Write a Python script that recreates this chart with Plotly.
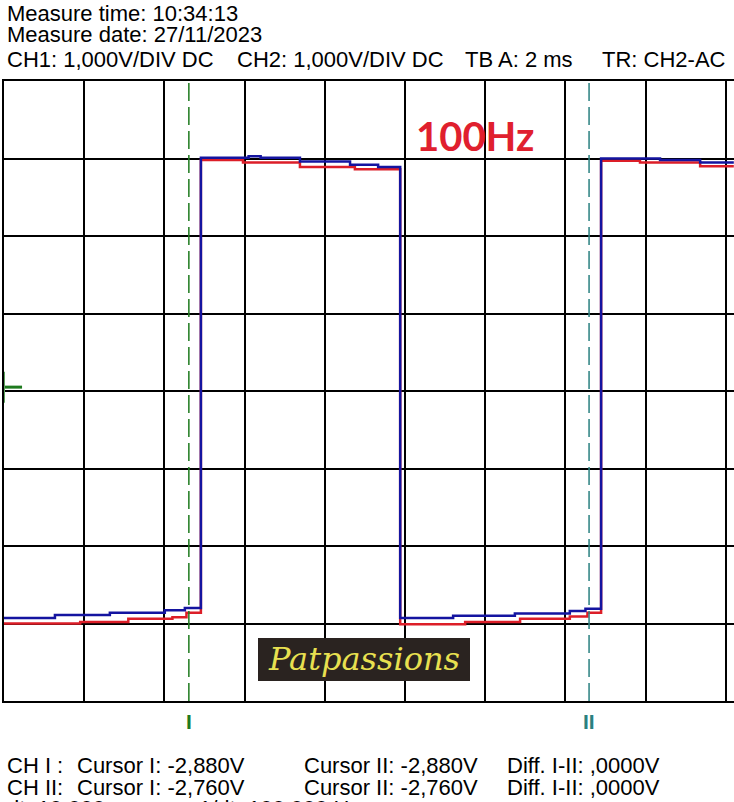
import plotly.graph_objects as go

# time in ms, voltage in V (1 V/div, 2 ms/div)
ch1_t = [0.00, 1.90, 3.10, 4.20, 4.55, 4.91, 5.96, 7.38, 8.75, 9.88, 11.50, 12.87, 14.11, 14.55, 14.89, 15.86, 17.36, 18.20]
ch1_v = [-3.00, -2.98, -2.94, -2.92, -2.86, 2.98, 2.95, 2.89, 2.86, -3.01, -2.98, -2.94, -2.91, -2.86, 2.97, 2.95, 2.90, 2.90]

ch2_t = [0.00, 1.27, 2.64, 4.01, 4.51, 4.91, 6.10, 6.40, 7.38, 8.63, 9.33, 9.88, 11.20, 12.74, 14.11, 14.50, 14.89, 16.36, 17.36, 18.20]
ch2_v = [-2.93, -2.89, -2.86, -2.83, -2.80, 3.01, 3.03, 3.01, 2.96, 2.92, 2.89, -2.93, -2.90, -2.87, -2.84, -2.81, 3.00, 2.98, 2.95, 2.95]

cursor_t = [4.61, 14.59]
cursor_names = ["I", "II"]
cursor_colors = ["#1e7a1e", "#2b8080"]

header = ["Measure time: 10:34:13", "Measure date: 27/11/2023"]
settings = [("CH1: 1,000V/DIV DC", 5), ("CH2: 1,000V/DIV DC", 235), ("TB A: 2 ms", 463), ("TR: CH2-AC", 600)]
footer_rows = [
    [("CH I :", 5), ("Cursor I: -2,880V", 75), ("Cursor II: -2,880V", 302), ("Diff. I-II: ,0000V", 505)],
    [("CH II:", 5), ("Cursor I: -2,760V", 75), ("Cursor II: -2,760V", 302), ("Diff. I-II: ,0000V", 505)],
    [("dt: 10,000ms", 5), ("1/dt: 100,000 Hz", 197)],
]

W, H = 734, 802
L, T, B = 4, 81, 701  # plot area in pixels
X_MAX = (W - L) / 80.2 * 2


def px(x):
    return (x - L) / (W - L)


def py(y):
    return (B - y) / (B - T)


FONT = "Liberation Sans, Arial, sans-serif"
FS = 22

fig = go.Figure()

fig.add_trace(go.Scatter(x=ch1_t, y=ch1_v, mode="lines", line=dict(color="#dc1e28", width=2.5, shape="hv"),
                         name="CH1", hoverinfo="skip"))
fig.add_trace(go.Scatter(x=ch2_t, y=ch2_v, mode="lines", line=dict(color="#1414a0", width=2.5, shape="hv"),
                         name="CH2", hoverinfo="skip"))

# cursors
for t, name, col in zip(cursor_t, cursor_names, cursor_colors):
    fig.add_shape(type="line", x0=t, x1=t, y0=-4, y1=4, xref="x", yref="y",
                  line=dict(color=col, width=1.5, dash="18px,6px"))
    fig.add_annotation(x=t, y=py(721), xref="x", yref="paper", text="<b>" + name + "</b>", showarrow=False,
                       font=dict(family=FONT, size=21, color=col), xanchor="center", yanchor="middle")

# ground marker on the left
fig.add_shape(type="line", x0=0, x1=0.45, y0=0.05, y1=0.05, line=dict(color="#1e7a1e", width=3))
fig.add_shape(type="line", x0=0, x1=0, y0=-0.15, y1=0.25, line=dict(color="#5aa05a", width=2))

# header text
for i, txt in enumerate(header):
    fig.add_annotation(x=px(5), y=py([14, 35][i]), xref="paper", yref="paper", text=txt, showarrow=False,
                       font=dict(family=FONT, size=FS, color="black"), xanchor="left", yanchor="middle")
for txt, x in settings:
    fig.add_annotation(x=px(x), y=py(60), xref="paper", yref="paper", text=txt, showarrow=False,
                       font=dict(family=FONT, size=FS, color="black"), xanchor="left", yanchor="middle")

# footer text
for row, yy in zip(footer_rows, [766, 787, 808]):
    for txt, x in row:
        fig.add_annotation(x=px(x), y=py(yy), xref="paper", yref="paper", text=txt, showarrow=False,
                           font=dict(family=FONT, size=FS, color="black"), xanchor="left", yanchor="middle")

# frequency label
fig.add_annotation(x=px(475), y=py(136), xref="paper", yref="paper", text="<b>100Hz</b>", showarrow=False,
                   font=dict(family="Lato, Noto Sans, sans-serif", size=40, color="#e0202e"),
                   xanchor="center", yanchor="middle")

# logo
fig.add_shape(type="rect", x0=px(258), x1=px(470), y0=py(681), y1=py(638), xref="paper", yref="paper",
              fillcolor="#2a2320", line=dict(width=0))
fig.add_annotation(x=px(364), y=py(659), xref="paper", yref="paper", text="<i>Patpassions</i>", showarrow=False,
                   font=dict(family="DejaVu Serif, serif", size=32, color="#e8e050"),
                   xanchor="center", yanchor="middle")

fig.update_layout(
    width=W, height=H,
    margin=dict(l=L, r=0, t=T, b=H - B, pad=0),
    paper_bgcolor="white", plot_bgcolor="white",
    showlegend=False,
    xaxis=dict(range=[0, X_MAX], dtick=2, tick0=0, showgrid=True, gridcolor="black", gridwidth=2,
               showticklabels=False, ticks="", zeroline=False, showline=True, mirror=True,
               linecolor="black", linewidth=2, fixedrange=True),
    yaxis=dict(range=[-4, 4], dtick=1, tick0=0, showgrid=True, gridcolor="black", gridwidth=2,
               showticklabels=False, ticks="", zeroline=False, showline=True, mirror=False,
               linecolor="black", linewidth=2, fixedrange=True),
)

# drop the browser's default 8px body margin so the figure sits at the window's corner
fig.write_html("out.html", post_script="document.body.style.margin='0';",
               config={"displayModeBar": False})
